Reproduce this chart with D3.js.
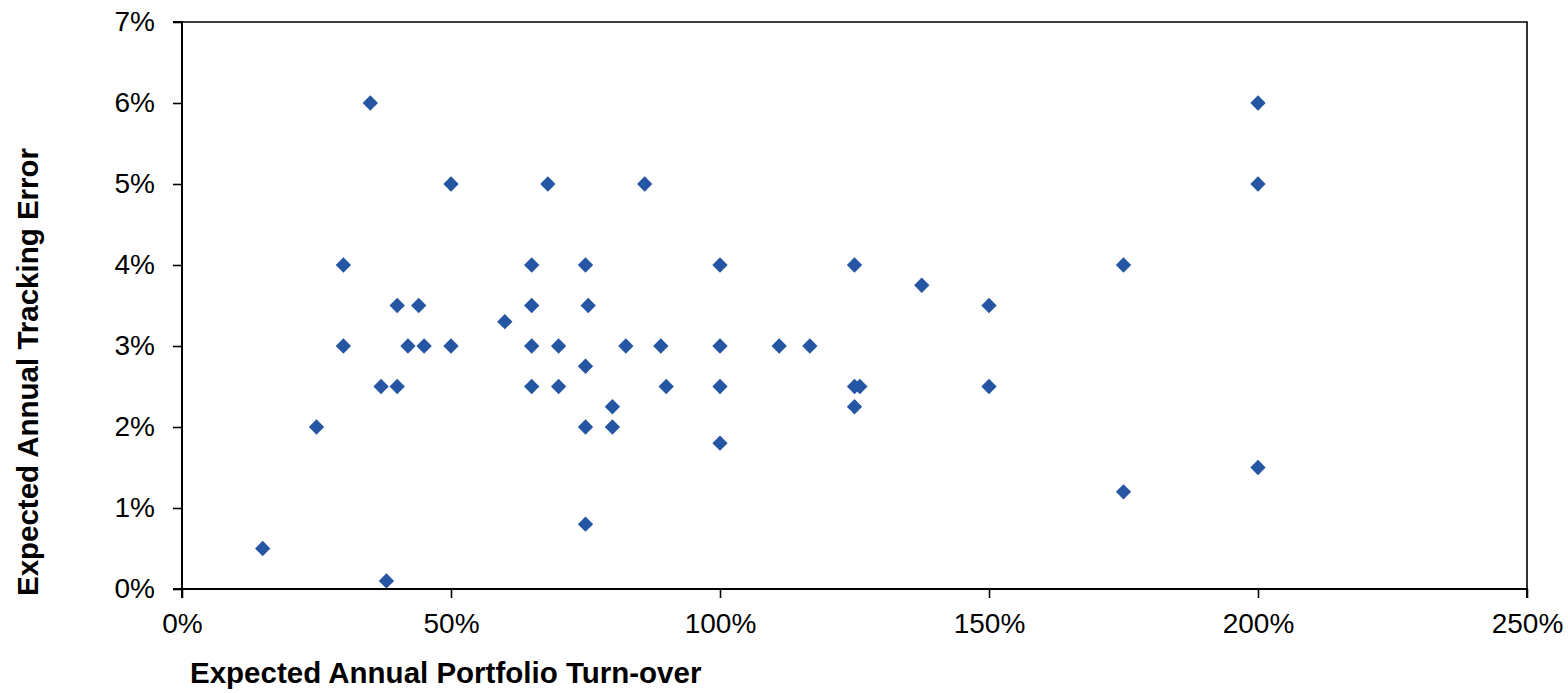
<!DOCTYPE html>
<html>
<head>
<meta charset="utf-8">
<script src="https://cdn.jsdelivr.net/npm/d3@7"></script>
<style>
  html, body { margin: 0; padding: 0; background: #fff; }
  svg { display: block; font-family: "Liberation Sans", Arial, sans-serif; }
</style>
</head>
<body>
<svg id="chart" width="1568" height="693"></svg>
<script>
// turnover (%) and tracking error (%) per fund
const turnover = [15, 25, 30, 30, 35, 37, 38, 40, 40, 42, 44, 45, 50, 50,
  60, 65, 65, 65, 65, 68, 70, 70, 75, 75.5, 75, 75, 75, 80, 80, 82.5, 86, 89, 90,
  100, 100, 100, 100, 111, 116.7, 125, 125, 126, 125, 137.5, 150, 150,
  175, 175, 200, 200, 200]
const trackingError = [0.5, 2.0, 4.0, 3.0, 6.0, 2.5, 0.1, 3.5, 2.5, 3.0, 3.5, 3.0, 5.0, 3.0,
  3.3, 4.0, 3.5, 3.0, 2.5, 5.0, 3.0, 2.5, 4.0, 3.5, 2.75, 2.0, 0.8, 2.25, 2.0, 3.0, 5.0, 3.0, 2.5,
  4.0, 3.0, 2.5, 1.8, 3.0, 3.0, 4.0, 2.5, 2.5, 2.25, 3.75, 3.5, 2.5,
  4.0, 1.2, 6.0, 5.0, 1.5]
const xTicks = [0, 50, 100, 150, 200, 250]
const yTicks = [0, 1, 2, 3, 4, 5, 6, 7]

const svg = d3.select('#chart')
const margin = {top: 22, right: 41, bottom: 104, left: 182}
const width = 1568 - margin.left - margin.right,
  height = 693 - margin.top - margin.bottom

const x = d3.scaleLinear().domain([0, 250]).range([0, width])
const y = d3.scaleLinear().domain([0, 7]).range([height, 0])

const g = svg.append('g').attr('transform', `translate(${margin.left},${margin.top})`)

// top and right frame
g.append('path')
  .attr('d', `M0,0H${width}V${height}`)
  .attr('fill', 'none')
  .attr('stroke', '#000')
  .attr('stroke-width', 1.6)

const xAxis = g.append('g')
  .attr('transform', `translate(0,${height})`)
  .call(d3.axisBottom(x).tickValues(xTicks).tickSize(9).tickFormat(d => d + '%'))
const yAxis = g.append('g')
  .call(d3.axisLeft(y).tickValues(yTicks).tickSize(9).tickPadding(18).tickFormat(d => d + '%'))

;[xAxis, yAxis].forEach(a => {
  a.select('.domain').attr('stroke', '#000').attr('stroke-width', 2)
  a.selectAll('.tick line').attr('stroke', '#000').attr('stroke-width', 1.6)
  a.selectAll('.tick text')
    .attr('fill', '#000')
    .style('font-size', '28px')
    .style('font-family', '"Liberation Sans", Arial, sans-serif')
})
// baseline of x tick labels ~44px under the axis
xAxis.selectAll('.tick text').attr('y', 44).attr('dy', 0)
yAxis.select('.domain').attr('d', `M-9,${height}H0V0H-9`)
xAxis.select('.domain').attr('d', `M0,9V0H${width}V9`)

const diamond = d3.symbol().type(d3.symbolDiamond2).size(150)
g.append('g')
  .selectAll('path')
  .data(turnover.map((t, i) => [t, trackingError[i]]))
  .join('path')
  .attr('d', diamond)
  .attr('transform', d => `translate(${x(d[0])},${y(d[1])})`)
  .attr('fill', '#2556a3')

svg.append('text')
  .attr('x', 190)
  .attr('y', 683)
  .style('font-size', '29.5px')
  .style('font-weight', 'bold')
  .text('Expected Annual Portfolio Turn-over')

svg.append('text')
  .attr('transform', 'translate(38,372) rotate(-90)')
  .attr('text-anchor', 'middle')
  .style('font-size', '29.5px')
  .style('font-weight', 'bold')
  .text('Expected Annual Tracking Error')
</script>
</body>
</html>
